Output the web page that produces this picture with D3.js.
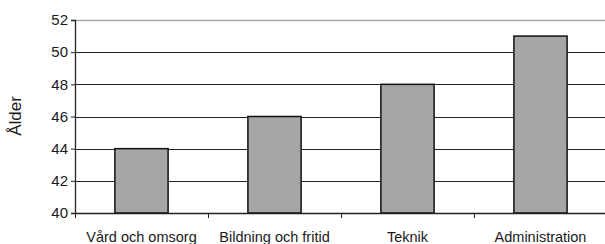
<!DOCTYPE html>
<html>
<head>
<meta charset="utf-8">
<style>
html, body {
  margin: 0px;
  padding: 0px;
  border: 0px;
  background: #fff;
}
text {
  font-family: "Liberation Sans", Arial, sans-serif;
  fill: #1a1a1a;
}
</style>
</head>
<body>
<div id="chart"></div>
<script src="https://cdn.jsdelivr.net/npm/d3@7/dist/d3.min.js"></script>
<script>
  var categories = ["Vård och omsorg", "Bildning och fritid", "Teknik", "Administration"];
  var ages = [44, 46, 48, 51];
  var yTicks = [40, 42, 44, 46, 48, 50, 52];

  var width = 605, height = 244;
  var margin = {top: 20, right: -2, bottom: 31, left: 75};

  var svg = d3.select("#chart").append("svg")
    .attr("width", width)
    .attr("height", height);

  var x = d3.scaleBand()
    .domain(categories)
    .range([margin.left, width - margin.right])
    .paddingInner(0.6)
    .paddingOuter(0.3);

  var y = d3.scaleLinear()
    .domain([40, 52])
    .range([height - margin.bottom, margin.top]);

  // gridlines
  svg.append("g")
    .selectAll("line")
    .data(yTicks.slice(1))
    .enter()
    .append("line")
    .attr("x1", margin.left)
    .attr("x2", width)
    .attr("y1", function (d) { return Math.round(y(d)) + 0.5; })
    .attr("y2", function (d) { return Math.round(y(d)) + 0.5; })
    .attr("stroke", function (d) { return d === 52 ? "#a8a8a8" : "#222"; })
    .attr("stroke-width", function (d) { return d === 52 ? 1.6 : 1.2; });

  // bars
  svg.append("g")
    .selectAll("rect")
    .data(ages)
    .enter()
    .append("rect")
    .attr("x", function (d, i) { return x(categories[i]); })
    .attr("width", x.bandwidth())
    .attr("y", function (d) { return y(d); })
    .attr("height", function (d) { return y(40) - y(d); })
    .attr("fill", "#a6a6a8")
    .attr("stroke", "#111")
    .attr("stroke-width", 1.5);

  // y axis
  var yAxis = svg.append("g")
    .attr("transform", "translate(" + margin.left + ",0)")
    .call(d3.axisLeft(y).tickValues(yTicks).tickSize(4).tickPadding(3));
  yAxis.select(".domain").attr("stroke", "#222").attr("stroke-width", 1.3);
  yAxis.selectAll(".tick line").attr("stroke", "#222");
  yAxis.selectAll("text")
    .style("font-family", "'Liberation Sans', Arial, sans-serif")
    .style("font-size", "15px")
    .attr("fill", "#1a1a1a");

  // x axis: ticks at category boundaries
  var step = x.step();
  var start = margin.left;
  var boundaries = d3.range(categories.length + 1).map(function (i) { return start + i * step; });
  var xAxis = svg.append("g");
  xAxis.append("line")
    .attr("x1", margin.left)
    .attr("x2", width)
    .attr("y1", y(40) + 0.5)
    .attr("y2", y(40) + 0.5)
    .attr("stroke", "#222")
    .attr("stroke-width", 1.3);
  xAxis.selectAll("line.tick")
    .data(boundaries)
    .enter()
    .append("line")
    .attr("class", "tick")
    .attr("x1", function (d) { return Math.round(d) + 0.5; })
    .attr("x2", function (d) { return Math.round(d) + 0.5; })
    .attr("y1", y(40))
    .attr("y2", y(40) + 5)
    .attr("stroke", "#222");
  xAxis.selectAll("text")
    .data(categories)
    .enter()
    .append("text")
    .attr("x", function (d) { return x(d) + x.bandwidth() / 2; })
    .attr("y", 241.5)
    .attr("text-anchor", "middle")
    .style("font-size", "14.5px")
    .text(function (d) { return d; });

  // y axis title
  svg.append("text")
    .attr("transform", "translate(21," + (y(46) - 0.5) + ") rotate(-90)")
    .attr("text-anchor", "middle")
    .style("font-size", "17px")
    .text("Ålder");
</script>
</body>
</html>
